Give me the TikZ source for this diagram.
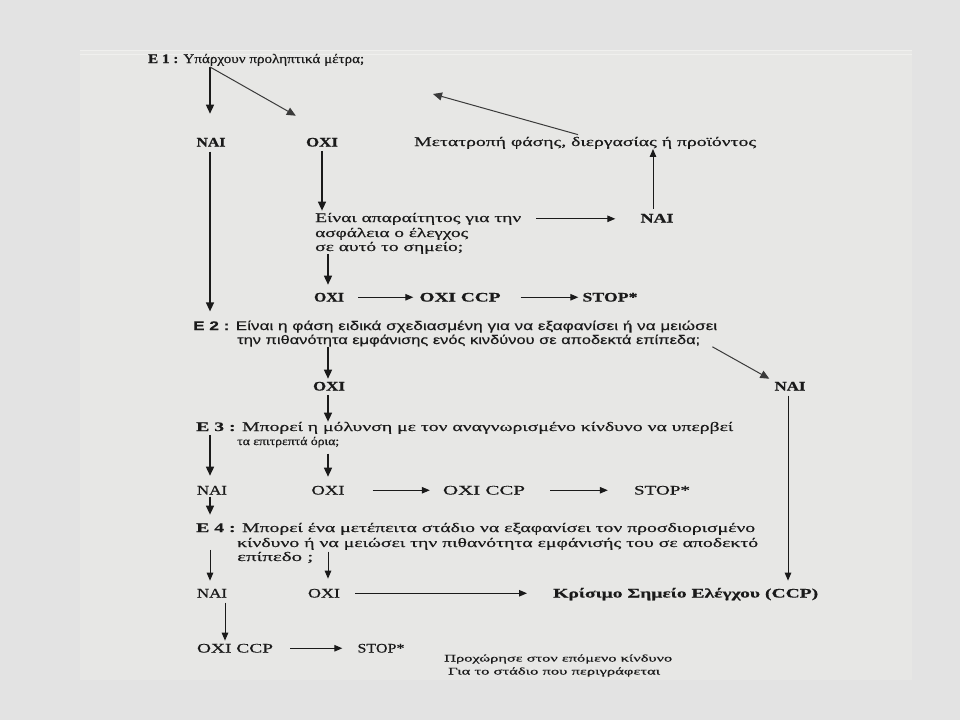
\documentclass[tikz,border=0pt]{standalone}
\usepackage{fontspec}
\setmainfont{Liberation Serif}[FakeBold=0.4]
\newfontfamily\sansf{Liberation Sans}[FakeBold=0.3]
\usetikzlibrary{arrows.meta,calc}
\definecolor{bg}{HTML}{E3E3E3}
\definecolor{panel}{HTML}{E7E7E5}
\definecolor{panelline}{HTML}{F0F0EE}
\definecolor{ink}{HTML}{1A1A1A}
\definecolor{grayink}{HTML}{3A3A3A}
\newlength\fitlen
\newcommand\fitto[2]{\settowidth\fitlen{#2}\pgfmathsetmacro\fitf{#1/\fitlen}\scalebox{\fitf}[1]{#2}}
\begin{document}
\begin{tikzpicture}[x=1pt,y=-1pt,
  txt/.style={inner sep=0pt, text=ink, anchor=base west, font=\fontsize{13}{15}\selectfont},
  stxt/.style={txt, font=\sansf\fontsize{12.5}{15}\selectfont},
  small/.style={txt, font=\fontsize{10}{12}\selectfont},
  lab/.style={inner sep=0pt, text=ink, anchor=base, font=\fontsize{13}{15}\selectfont},
  blab/.style={lab, font=\fontsize{13}{15}\selectfont\bfseries},
  arr/.style={draw=ink, line width=1.4pt, -{Triangle[length=9pt,width=8pt]}},
  harr/.style={draw=ink, line width=1pt, -{Triangle[length=8pt,width=6.5pt]}},
  darr/.style={draw=grayink, line width=1pt, -{Triangle[length=9pt,width=8pt]}}]
\useasboundingbox (0,0) rectangle (960,720);
\fill[bg] (0,0) rectangle (960,720);
\fill[panel] (80,50) rectangle (912,680);
\draw[panelline, line width=1pt] (80,50.5) -- (912,50.5);
\draw[panelline, line width=1pt] (80,54) -- (912,54);

% ---- E1 ----
\node[txt] (e1) at (148,63) {\fitto{216}{\textbf{E 1 :} Υπάρχουν προληπτικά μέτρα;}};
\node[blab] (n1) at (211,146.5) {\fitto{29}{NAI}};
\node[blab] (o1) at (322,146.5) {\fitto{32}{OXI}};
\node[txt] (m) at (414,146) {\fitto{342}{Μετατροπή φάσης, διεργασίας ή προϊόντος}};
\coordinate (back) at (433,94);
\node[txt] (q1a) at (315,222) {\fitto{206}{Είναι απαραίτητος για την}};
\node[txt] (q1b) at (315,237) {\fitto{153}{ασφάλεια ο έλεγχος}};
\node[txt] (q1c) at (315,251) {\fitto{148}{σε αυτό το σημείο;}};
\node[blab] (n2) at (657,222.5) {\fitto{33}{NAI}};
\node[blab] (o2) at (329,301.5) {\fitto{30}{OXI}};
\node[blab] (c1) at (460,301.5) {\fitto{81}{OXI CCP}};
\node[blab] (s1) at (610,301.5) {\fitto{55}{STOP*}};

% ---- E2 ----
\node[stxt] (e2a) at (193,330) {\fitto{524}{\textbf{E 2 :} Είναι η φάση ειδικά σχεδιασμένη για να εξαφανίσει ή να μειώσει}};
\node[stxt] (e2b) at (237,344) {\fitto{463}{την πιθανότητα εμφάνισης ενός κινδύνου σε αποδεκτά επίπεδα;}};
\node[blab] (o3) at (329,390.5) {\fitto{32}{OXI}};
\node[blab] (n3) at (790,390.5) {\fitto{31}{NAI}};

% ---- E3 ----
\node[txt] (e3a) at (196,431) {\fitto{537}{\textbf{E 3 :} Μπορεί η μόλυνση με τον αναγνωρισμένο κίνδυνο να υπερβεί}};
\node[txt, font=\fontsize{11.5}{14}\selectfont] (e3b) at (237,445) {\fitto{102}{τα επιτρεπτά όρια;}};
\node[lab] (n4) at (212,494.5) {\fitto{30}{NAI}};
\node[lab] (o4) at (328,494.5) {\fitto{33}{OXI}};
\node[lab] (c2) at (484,494.5) {\fitto{82}{OXI CCP}};
\node[lab] (s2) at (662,494.5) {\fitto{56}{STOP*}};

% ---- E4 ----
\node[txt] (e4a) at (196,532) {\fitto{559}{\textbf{E 4 :} Μπορεί ένα μετέπειτα στάδιο να εξαφανίσει τον προσδιορισμένο}};
\node[txt] (e4b) at (237,547) {\fitto{521}{κίνδυνο ή να μειώσει την πιθανότητα εμφάνισής του σε αποδεκτό}};
\node[txt] (e4c) at (237,561) {\fitto{76}{επίπεδο ;}};
\node[lab] (n5) at (212,597.5) {\fitto{30}{NAI}};
\node[lab] (o5) at (324,597.5) {\fitto{32}{OXI}};
\node[txt, font=\fontsize{13}{15}\selectfont\bfseries] (ccp) at (553,597.5) {\fitto{265}{Κρίσιμο Σημείο Ελέγχου (CCP)}};

% ---- bottom ----
\node[lab] (c3) at (235,652.5) {\fitto{76}{OXI CCP}};
\node[lab] (s3) at (381,652.5) {\fitto{47}{STOP*}};
\node[small] (p1) at (444,661.5) {\fitto{228}{Προχώρησε στον επόμενο κίνδυνο}};
\node[small] (p2) at (448,674.5) {\fitto{212}{Για το στάδιο που περιγράφεται}};

% ---- connectors ----
\draw[arr, shorten >=24pt] ($(n1.north |- e1.south)+(-1,1)$) -- ($(n1.north)+(-1,0)$);
\draw[darr] ($(n1.north |- e1.south)+(-1,1)$) -- ($(o1.north west)+(-10,-22)$);
\draw[darr] ($(m.north west)+(164,-2)$) -- (back);
\draw[harr] ($(n2.north)+(-4,-5)$) -- ($(n2.north |- m.south)+(-4,0)$);
\draw[arr, shorten <=5pt, shorten >=9pt] ($(n1.south)+(-1,0)$) -- ($(n1.south |- e2a.north)+(-1,0)$);
\draw[arr, shorten <=4pt, shorten >=2pt] (o1.south) -- (o1.south |- q1a.north);
\draw[harr, shorten <=15pt, shorten >=25pt] (q1a.east) -- (q1a.east -| n2.west);
\draw[arr, shorten >=8pt] ($(o2.north |- q1c.south)+(-1,0)$) -- ($(o2.north)+(-1,0)$);
\draw[harr, shorten <=14pt, shorten >=6pt] (o2.east) -- (o2.east -| c1.west);
\draw[harr, shorten <=20pt, shorten >=4pt] (c1.east) -- (c1.east -| s1.west);
\draw[arr, shorten >=3pt] ($(o3.north |- e2b.south)+(-1,0)$) -- ($(o3.north)+(-1,0)$);
\draw[darr] ($(e2b.south east)+(12,0)$) -- ($(n3.north west)+(-5,-3)$);
\draw[arr, shorten <=4pt] ($(o3.south)+(-1,0)$) -- ($(o3.south |- e3a.north)+(-1,0)$);
\draw[harr, shorten <=5pt, shorten >=7pt] ($(n3.south)+(-2,0)$) -- ($(n3.south |- ccp.north)+(-2,0)$);
\draw[arr, shorten <=1pt, shorten >=10pt] ($(e3a.south west)+(14,0)$) -- ($(e3a.south west |- n4.north)+(14,0)$);
\draw[arr, shorten <=6pt, shorten >=9pt] (o4.north |- e3b.south) -- (o4.north);
\draw[harr, shorten <=28pt, shorten >=13pt] (o4.east) -- (o4.east -| c2.west);
\draw[harr, shorten <=25pt, shorten >=26pt] (c2.east) -- (c2.east -| s2.west);
\draw[arr, shorten <=2pt, shorten >=8pt] ($(n4.south)+(-2,0)$) -- ($(n4.south |- e4a.north)+(-2,0)$);
\draw[harr, shorten >=8pt] ($(n5.north |- e4b.south)+(-2,0)$) -- ($(n5.north)+(-2,0)$);
\draw[harr, shorten >=10pt] ($(o5.north |- e4c.north)+(4,0)$) -- ($(o5.north)+(4,0)$);
\draw[harr, shorten <=15pt, shorten >=26pt] (o5.east) -- (o5.east -| ccp.west);
\draw[harr, shorten <=5pt, shorten >=3pt] ($(n5.south)+(13,0)$) -- ($(n5.south |- c3.north)+(13,0)$);
\draw[harr, shorten <=17pt, shorten >=15pt] (c3.east) -- (c3.east -| s3.west);
\end{tikzpicture}
\end{document}
